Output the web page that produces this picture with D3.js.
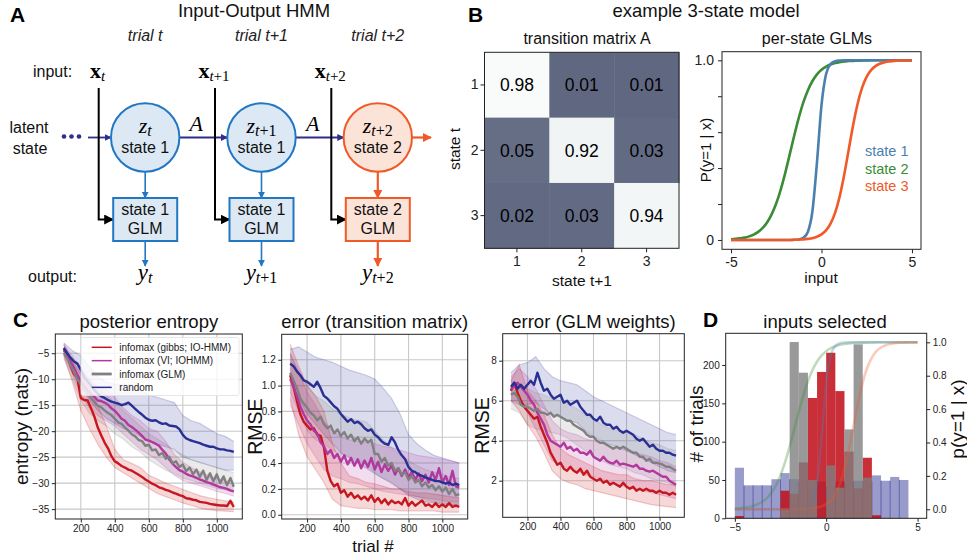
<!DOCTYPE html>
<html>
<head>
<meta charset="utf-8">
<script src="https://cdn.jsdelivr.net/npm/d3@7"></script>
<style>
body { margin:0; background:#fff; }
svg text { font-family:"Liberation Sans", Arial, Helvetica, sans-serif; }
</style>
</head>
<body>
<svg id="fig" width="967" height="560"></svg>
<script>
// ---------- data ----------
var stepLabels = ["trial t", "trial t+1", "trial t+2"];
var stepSubs = ["", "+1", "+2"];
var stepStates = [1, 1, 2];

var transA = [[0.98, 0.01, 0.01], [0.05, 0.92, 0.03], [0.02, 0.03, 0.94]];

var glmNames = ["state 1", "state 2", "state 3"];
var glmInputs = d3.range(-5, 5.001, 0.25);
var glmState1 = [0,0,0,0,0,0,0,0,0,0,0,0,0,0,0.001,0.003,0.012,0.046,0.161,0.432,0.750,0.922,0.979,0.995,0.999,1,1,1,1,1,1,1,1,1,1,1,1,1,1,1,1];
var glmState2 = [0.004,0.006,0.009,0.013,0.020,0.030,0.045,0.067,0.099,0.144,0.204,0.282,0.375,0.479,0.584,0.682,0.767,0.834,0.885,0.922,0.947,0.965,0.977,0.985,0.990,0.993,0.996,0.997,0.998,0.999,0.999,1,1,1,1,1,1,1,1,1,1];
var glmState3 = [0,0,0,0,0,0,0,0,0,0,0,0,0,0,0.001,0.002,0.003,0.006,0.010,0.018,0.031,0.053,0.091,0.151,0.240,0.360,0.500,0.640,0.760,0.849,0.909,0.947,0.969,0.982,0.990,0.994,0.997,0.998,0.999,0.999,1];

var methodNames = ["infomax (gibbs; IO-HMM)", "infomax (VI; IOHMM)", "infomax (GLM)", "random"];
var lineTrials = d3.range(100, 1101, 20);
var bandTrials = d3.range(100, 1101, 50);

// posterior entropy
var entGibbs = [-4.2,-5.2,-7.5,-9.0,-9.8,-13.6,-14.0,-14.1,-15.6,-17.2,
  -19.3,-20.8,-22.2,-23.3,-24.8,-25.8,-26.2,-26.7,-27.0,-27.4,
  -27.6,-28.0,-28.4,-28.8,-29.3,-29.7,-30.1,-30.4,-30.8,-31.0,
  -31.3,-31.5,-31.8,-32.0,-32.3,-32.5,-32.9,-33.0,-33.2,-33.3,
  -33.6,-33.7,-33.8,-34.0,-34.1,-34.2,-34.3,-34.3,-34.4,-33.4,-34.6];
var entVI = [-4.5,-5.2,-6.6,-7.8,-9.2,-10.4,-11.3,-12.2,-12.9,-13.4,
  -14.1,-14.2,-14.5,-14.9,-15.6,-16.1,-16.8,-17.6,-18.0,-18.8,
  -19.2,-19.7,-20.3,-20.9,-21.6,-21.8,-22.1,-22.4,-22.8,-23.6,
  -24.3,-25.4,-26.3,-26.9,-27.5,-27.8,-28.2,-28.5,-28.7,-29.0,
  -29.3,-29.5,-29.8,-30.0,-30.3,-30.5,-30.8,-30.9,-31.1,-31.4,-31.6];
var entGLM = [-5.0,-6.0,-7.4,-8.6,-10.0,-11.0,-12.1,-12.7,-13.6,-14.4,
  -15.1,-15.4,-16.0,-16.5,-16.9,-17.6,-18.3,-18.6,-19.3,-19.9,
  -20.6,-21.0,-21.7,-21.9,-22.8,-22.6,-23.7,-23.5,-24.6,-24.2,
  -25.3,-24.9,-26.2,-25.8,-26.9,-26.4,-27.7,-27.0,-28.3,-27.4,
  -28.8,-27.6,-29.4,-28.1,-29.7,-28.3,-30.0,-28.7,-30.4,-29.0,-30.7];
var entRand = [-4.0,-5.0,-5.9,-6.6,-7.0,-8.2,-9.6,-10.4,-11.2,-12.1,
  -12.8,-13.3,-13.6,-14.0,-14.3,-14.5,-14.7,-15.0,-14.8,-14.5,
  -15.1,-15.7,-16.3,-16.8,-17.4,-17.8,-18.0,-17.9,-18.3,-18.6,
  -18.5,-18.9,-19.0,-19.1,-19.6,-20.7,-21.4,-21.7,-21.9,-22.1,
  -22.3,-22.6,-22.8,-23.0,-23.0,-23.3,-23.5,-23.5,-23.7,-23.8,-24.0];
var entGibbsLo = [-5.5,-10.5,-16,-19.5,-22.5,-25,-27,-28,-29,-30,-31,-32,-32.6,-33.2,-33.8,-34.3,-34.8,-35.1,-35.3,-35.4,-35.5];
var entGibbsHi = [-3.2,-6.5,-9.0,-11.5,-15,-19,-23.5,-25.5,-26.2,-27,-28.5,-29.2,-30,-30.6,-31.2,-31.8,-32.4,-32.8,-33.1,-33.4,-33.6];
var entVILo = [-5.5,-9,-13,-15.5,-17,-18,-19,-20.5,-22,-23.5,-24.5,-25.5,-27,-28.5,-29.5,-30,-30.5,-31,-31.6,-32,-32.5];
var entVIHi = [-3.5,-5.5,-8,-10,-11.5,-12,-13.5,-15.5,-17,-18,-19.5,-20,-22,-24.5,-26,-27,-27.8,-28.5,-29,-29.6,-30.2];
var entGLMLo = [-6,-10,-14,-16.5,-18,-19,-20.5,-21.5,-23,-24,-25.5,-26.5,-27.5,-28.2,-29,-29.5,-30,-30.5,-31,-31.3,-31.8];
var entGLMHi = [-4,-6,-8,-10,-12,-13,-14.5,-16,-17.5,-19,-20.5,-21.5,-22.5,-23.8,-24.5,-25.5,-26,-26.5,-27,-27.5,-28];
var entRandLo = [-5,-8,-11,-14,-16,-17.5,-18.5,-19.5,-20,-21,-22,-22.5,-23,-23.5,-25,-25.5,-26,-26.5,-27,-27.5,-27.5];
var entRandHi = [-3,-4.5,-5.5,-7.5,-9.5,-10.5,-11,-11,-11,-12,-13,-13.5,-14,-14.5,-17,-18,-18.5,-19.5,-20.5,-21,-22];

// error (transition matrix)
var tmGibbs = [1.08,0.99,0.88,0.78,0.72,0.69,0.66,0.67,0.62,0.61,
  0.52,0.34,0.26,0.22,0.24,0.17,0.19,0.14,0.17,0.13,
  0.15,0.12,0.14,0.11,0.15,0.10,0.13,0.09,0.12,0.08,
  0.11,0.09,0.10,0.08,0.13,0.07,0.10,0.07,0.09,0.11,
  0.07,0.08,0.06,0.09,0.06,0.08,0.06,0.09,0.06,0.07,0.06];
var tmVI = [1.05,0.99,0.92,0.84,0.78,0.73,0.70,0.65,0.63,0.56,
  0.53,0.47,0.50,0.44,0.47,0.41,0.46,0.39,0.44,0.38,
  0.43,0.36,0.42,0.37,0.44,0.35,0.41,0.33,0.39,0.34,
  0.38,0.31,0.36,0.30,0.35,0.29,0.33,0.27,0.32,0.26,
  0.31,0.25,0.33,0.27,0.36,0.25,0.30,0.23,0.34,0.22,0.21];
var tmGLM = [1.10,1.04,0.98,0.90,0.86,0.83,0.79,0.77,0.73,0.76,
  0.70,0.67,0.69,0.63,0.66,0.61,0.64,0.59,0.62,0.57,
  0.60,0.55,0.59,0.56,0.58,0.47,0.47,0.41,0.44,0.38,
  0.40,0.34,0.36,0.31,0.33,0.27,0.30,0.25,0.27,0.22,
  0.25,0.21,0.23,0.19,0.22,0.18,0.21,0.16,0.20,0.15,0.16];
var tmRand = [1.17,1.15,1.11,1.08,1.04,1.03,1.01,0.99,1.03,0.98,
  0.92,0.90,0.87,0.84,0.82,0.78,0.75,0.72,0.74,0.71,
  0.72,0.70,0.67,0.65,0.66,0.62,0.60,0.57,0.55,0.54,
  0.60,0.56,0.50,0.46,0.43,0.37,0.34,0.33,0.31,0.30,
  0.29,0.28,0.27,0.26,0.26,0.25,0.24,0.25,0.23,0.24,0.23];
var tmGibbsLo = [0.90,0.62,0.45,0.35,0.25,0.12,0.07,0.06,0.05,0.05,0.04,0.04,0.04,0.03,0.03,0.03,0.03,0.03,0.02,0.02,0.02];
var tmGibbsHi = [1.32,1.15,1.00,0.92,0.80,0.55,0.40,0.30,0.28,0.25,0.24,0.22,0.20,0.20,0.18,0.17,0.17,0.16,0.15,0.14,0.13];
var tmVILo = [0.85,0.70,0.55,0.45,0.35,0.30,0.28,0.25,0.24,0.22,0.20,0.18,0.17,0.16,0.15,0.14,0.13,0.12,0.11,0.10,0.10];
var tmVIHi = [1.25,1.10,0.95,0.85,0.72,0.65,0.60,0.58,0.57,0.56,0.55,0.53,0.52,0.50,0.48,0.46,0.45,0.44,0.43,0.42,0.40];
var tmGLMLo = [0.95,0.80,0.65,0.58,0.55,0.50,0.47,0.45,0.42,0.40,0.32,0.28,0.24,0.20,0.16,0.14,0.12,0.10,0.09,0.08,0.07];
var tmGLMHi = [1.25,1.12,1.00,0.92,0.88,0.82,0.78,0.75,0.73,0.72,0.65,0.58,0.52,0.46,0.42,0.38,0.35,0.33,0.31,0.29,0.28];
var tmRandLo = [1.05,0.90,0.78,0.70,0.62,0.55,0.48,0.44,0.40,0.36,0.32,0.28,0.25,0.20,0.15,0.12,0.10,0.09,0.08,0.08,0.08];
var tmRandHi = [1.28,1.30,1.26,1.22,1.20,1.18,1.15,1.12,1.10,1.08,1.05,0.98,0.90,0.78,0.62,0.55,0.50,0.46,0.44,0.42,0.40];

// error (GLM weights)
var gwGibbs = [6.5,6.9,6.4,6.0,5.7,5.5,5.3,5.1,5.2,4.7,
  4.3,3.9,3.4,3.1,2.8,2.9,2.6,2.5,2.7,2.5,
  2.4,2.6,2.3,2.5,2.2,2.1,2.0,2.1,1.9,2.0,
  1.8,1.9,1.8,1.7,1.9,1.7,1.6,1.7,1.5,1.6,
  1.5,1.6,1.5,1.5,1.4,1.5,1.4,1.4,1.3,1.4,1.3];
var gwVI = [6.6,6.7,6.9,6.7,6.5,6.3,6.0,5.8,5.4,5.1,
  4.8,4.3,4.0,3.9,3.8,3.7,3.9,3.6,3.7,3.5,
  3.6,3.4,3.4,3.3,3.5,3.2,3.1,3.0,3.2,3.0,
  2.9,2.85,3.0,2.8,2.85,2.8,2.75,2.7,2.8,2.6,
  2.6,2.5,2.45,2.5,2.4,2.3,2.2,2.2,2.0,1.9,1.8];
var gwGLM = [6.3,6.4,6.2,5.8,5.7,5.7,5.6,5.5,5.6,5.4,
  5.4,5.3,5.4,5.2,5.3,5.2,5.1,5.0,5.0,4.8,
  4.7,4.6,4.5,4.3,4.2,4.2,4.0,3.9,3.9,3.8,
  3.7,3.6,3.7,3.6,3.7,3.6,3.5,3.4,3.4,3.2,
  3.2,3.0,3.1,2.9,2.9,2.85,2.8,2.7,2.7,2.6,2.5];
var gwRand = [6.7,6.9,6.6,6.8,6.6,6.8,7.0,6.8,7.4,6.9,
  6.5,6.6,6.3,6.1,6.2,6.3,5.9,6.0,5.8,5.9,
  6.0,5.7,5.5,5.3,5.3,5.1,5.0,5.2,4.9,4.8,
  4.8,4.6,4.7,4.5,4.4,4.5,4.4,4.3,4.1,4.0,
  4.1,3.9,3.7,3.8,3.6,3.5,3.5,3.4,3.4,3.3,3.25];
var gwGibbsLo = [6.0,5.5,4.8,4.2,3.4,2.5,2.1,1.9,1.8,1.6,1.5,1.4,1.3,1.2,1.1,1.0,0.9,0.8,0.75,0.7,0.65];
var gwGibbsHi = [7.0,7.8,6.5,6.0,5.3,4.3,3.6,3.3,3.1,2.9,2.7,2.5,2.4,2.3,2.3,2.1,2.0,2.0,1.9,1.8,1.8];
var gwVILo = [6.0,6.0,5.4,4.6,3.8,3.0,2.8,2.6,2.5,2.3,2.2,2.1,1.9,1.8,1.7,1.6,1.5,1.4,1.3,1.2,1.1];
var gwVIHi = [7.2,7.6,7.2,6.6,5.8,5.0,4.6,4.4,4.3,4.1,4.0,3.9,3.7,3.6,3.5,3.4,3.3,3.2,3.0,2.9,2.7];
var gwGLMLo = [5.6,5.4,4.8,4.6,4.5,4.4,4.3,4.1,3.8,3.5,3.2,3.0,2.8,2.7,2.6,2.4,2.3,2.1,2.0,1.9,1.7];
var gwGLMHi = [7.0,6.8,6.6,6.4,6.3,6.1,6.0,5.8,5.6,5.3,5.1,4.8,4.6,4.5,4.5,4.3,4.1,3.9,3.8,3.6,3.5];
var gwRandLo = [6.0,5.8,5.8,5.9,5.6,5.3,5.2,5.0,4.9,4.5,4.2,4.0,3.8,3.7,3.5,3.3,3.1,2.9,2.7,2.5,2.4];
var gwRandHi = [7.4,7.8,7.9,8.2,7.6,7.2,7.0,6.9,6.8,6.5,6.2,6.0,5.8,5.6,5.4,5.2,5.0,4.8,4.6,4.4,4.3];

// inputs selected (bins of width 0.5 from -5 to 5)
var histEdges = [-5,-4.5,-4,-3.5,-3,-2.5,-2,-1.5,-1,-0.5,0,0.5,1,1.5,2,2.5,3,3.5,4,4.5];
var histRand = [66,43,43,43,51,59,51,48,48,48,42,48,48,49,48,56,49,54,50,0];
var histGibbs = [3,0,0,0,0,36,32,73,157,191,216,166,87,39,79,4,0,0,0,0];
var histGLM = [0,0,0,0,0,11,230,190,50,0,69,40,116,227,53,0,0,0,0,0];

// ---------- styling ----------
var SERIF = '"Liberation Serif", "Times New Roman", serif';
var cBlue = "#2277c2", cBlueFill = "#dce9f5", cOrange = "#f05a28", cOrangeFill = "#fce3d8", cNavyA = "#2e2e8c";
var glmColors = ["#4a7fb0", "#3a8c36", "#f05a28"];
var methodColors = ["#c8161e", "#b2379e", "#808080", "#2a2f93"];

var svg = d3.select("#fig");
var defs = svg.append("defs");
function arrowHead(id, color, size) {
  defs.append("marker").attr("id", id).attr("viewBox", "0 0 10 10")
    .attr("refX", 9).attr("refY", 5).attr("markerWidth", size).attr("markerHeight", size)
    .attr("markerUnits", "userSpaceOnUse").attr("orient", "auto")
    .append("path").attr("d", "M0,0L10,5L0,10z").attr("fill", color);
}
arrowHead("arBlue", cBlue, 7);
arrowHead("arOrange", cOrange, 9);
arrowHead("arNavy", cNavyA, 7);
arrowHead("arBlack", "#000", 10);

function label(g, x, y, s, size, anchor) {
  return g.append("text").attr("x", x).attr("y", y).attr("font-size", size)
    .attr("text-anchor", anchor || "middle").attr("fill", "#111").text(s);
}
function panelLetter(x, y, s) {
  svg.append("text").attr("x", x).attr("y", y).attr("font-size", 21).attr("font-weight", "bold").text(s);
}
function styleAxis(g, size) {
  g.attr("font-size", null).attr("font-family", null);
  g.select(".domain").remove();
  g.selectAll(".tick line").attr("stroke", "#222");
  g.selectAll(".tick text").attr("font-size", size).attr("fill", "#222");
}

// ---------- panel A ----------
var gA = svg.append("g");
panelLetter(10, 22, "A");
label(gA, 254, 17, "Input-Output HMM", 18.5);
var aX = d3.scaleLinear().domain([0, 2]).range([145.2, 377.8]);
var r = 34.2, boxTop = 198, boxH = 43, boxW = 64;

label(gA, 33, 77, "input:", 16, "start");
label(gA, 29, 133, "latent", 16);
label(gA, 30, 154, "state", 16);
label(gA, 28, 282, "output:", 16, "start");
[64, 71.5, 79].forEach(function (d) {
  gA.append("circle").attr("cx", d).attr("cy", 136.5).attr("r", 2.3).attr("fill", cNavyA);
});

// latent chain
gA.append("line").attr("x1", 88).attr("x2", aX(0) - r).attr("y1", 137.5).attr("y2", 137.5)
  .attr("stroke", cNavyA).attr("stroke-width", 1.8).attr("marker-end", "url(#arNavy)");
[0, 1].forEach(function (i) {
  gA.append("line").attr("x1", aX(i) + r).attr("x2", aX(i + 1) - r).attr("y1", 137.5).attr("y2", 137.5)
    .attr("stroke", cNavyA).attr("stroke-width", 1.8).attr("marker-end", "url(#arNavy)");
  gA.append("text").attr("x", (aX(i) + aX(i + 1)) / 2 - 7).attr("y", 131).attr("text-anchor", "middle")
    .style("font-family", SERIF).attr("font-style", "italic").attr("font-size", 22).text("A");
});
gA.append("line").attr("x1", aX(2) + r).attr("x2", 431).attr("y1", 137.5).attr("y2", 137.5)
  .attr("stroke", cOrange).attr("stroke-width", 2.2).attr("marker-end", "url(#arOrange)");

stepLabels.forEach(function (lab, i) {
  var cx = aX(i), st = stepStates[i];
  var col = st === 2 ? cOrange : cBlue, fill = st === 2 ? cOrangeFill : cBlueFill;
  var mk = st === 2 ? "url(#arOrange)" : "url(#arBlue)";
  var sw = st === 2 ? 2.2 : 1.6;
  var lx = cx - 46.5;
  gA.append("text").attr("x", cx).attr("y", 41).attr("text-anchor", "middle")
    .attr("font-size", 16).attr("font-style", "italic").attr("fill", "#222").text(lab);

  var xt = gA.append("text").attr("x", lx - 1).attr("y", 78).attr("text-anchor", "middle").style("font-family", SERIF);
  xt.append("tspan").attr("font-weight", "bold").attr("font-size", 22).text("x");
  xt.append("tspan").attr("font-size", 15).attr("font-style", "italic").attr("dy", 3).text("t");
  if (stepSubs[i]) xt.append("tspan").attr("font-size", 15).text(stepSubs[i]);

  gA.append("path").attr("d", "M" + lx + ",88V219.5H" + (cx - boxW / 2))
    .attr("fill", "none").attr("stroke", "#000").attr("stroke-width", 2).attr("marker-end", "url(#arBlack)");

  gA.append("circle").attr("cx", cx).attr("cy", 137.5).attr("r", r)
    .attr("fill", fill).attr("stroke", col).attr("stroke-width", 2);
  var zt = gA.append("text").attr("x", cx).attr("y", 133).attr("text-anchor", "middle").style("font-family", SERIF);
  zt.append("tspan").attr("font-style", "italic").attr("font-size", 22).text("z");
  zt.append("tspan").attr("font-style", "italic").attr("font-size", 16).attr("dy", 3).text("t");
  if (stepSubs[i]) zt.append("tspan").attr("font-size", 16).text(stepSubs[i]);
  label(gA, cx, 153, "state " + st, 16);

  gA.append("line").attr("x1", cx).attr("x2", cx).attr("y1", 137.5 + r).attr("y2", boxTop)
    .attr("stroke", col).attr("stroke-width", sw).attr("marker-end", mk);
  gA.append("rect").attr("x", cx - boxW / 2).attr("y", boxTop).attr("width", boxW).attr("height", boxH)
    .attr("fill", fill).attr("stroke", col).attr("stroke-width", 2);
  label(gA, cx, 215, "state " + st, 16);
  label(gA, cx, 234, "GLM", 16);
  gA.append("line").attr("x1", cx).attr("x2", cx).attr("y1", boxTop + boxH).attr("y2", 266)
    .attr("stroke", col).attr("stroke-width", sw).attr("marker-end", mk);

  var yt = gA.append("text").attr("x", cx).attr("y", 280).attr("text-anchor", "middle").style("font-family", SERIF);
  yt.append("tspan").attr("font-style", "italic").attr("font-size", 23).text("y");
  yt.append("tspan").attr("font-style", "italic").attr("font-size", 16).attr("dy", 3).text("t");
  if (stepSubs[i]) yt.append("tspan").attr("font-size", 16).text(stepSubs[i]);
});

// ---------- panel B ----------
panelLetter(468, 22, "B");
var gB = svg.append("g");
label(gB, 706, 17, "example 3-state model", 18.5);

// transition matrix heatmap
label(gB, 587, 44, "transition matrix A", 16);
var hx = d3.scaleBand().domain([0, 1, 2]).range([484.5, 679]);
var hy = d3.scaleBand().domain([0, 1, 2]).range([52.3, 248.3]);
var heatColor = d3.scaleLinear().domain([0, 0.9, 1]).range(["#5e6680", "#edf2f2", "#fcfdfd"]);
var cells = [];
transA.forEach(function (row, i) { row.forEach(function (v, j) { cells.push({ i: i, j: j, v: v }); }); });
gB.selectAll("rect.cell").data(cells).enter().append("rect")
  .attr("x", function (d) { return hx(d.j); }).attr("y", function (d) { return hy(d.i); })
  .attr("width", hx.bandwidth() + 0.5).attr("height", hy.bandwidth() + 0.5)
  .attr("fill", function (d) { return heatColor(d.v); });
gB.selectAll("text.cell").data(cells).enter().append("text")
  .attr("x", function (d) { return hx(d.j) + hx.bandwidth() / 2; })
  .attr("y", function (d) { return hy(d.i) + hy.bandwidth() / 2; })
  .attr("dy", "0.36em").attr("text-anchor", "middle").attr("font-size", 17.5).attr("fill", "#000")
  .text(function (d) { return d3.format(".2f")(d.v); });
gB.append("rect").attr("x", 484.5).attr("y", 52.3).attr("width", 194.5).attr("height", 196)
  .attr("fill", "none").attr("stroke", "#222").attr("stroke-width", 1);
var hb = gB.append("g").attr("transform", "translate(0,248.3)")
  .call(d3.axisBottom(hx).tickSize(4).tickPadding(4).tickFormat(function (d) { return d + 1; }));
styleAxis(hb, 14);
var hl = gB.append("g").attr("transform", "translate(484.5,0)")
  .call(d3.axisLeft(hy).tickSize(4).tickPadding(2).tickFormat(function (d) { return d + 1; }));
styleAxis(hl, 14);
label(gB, 582, 286, "state t+1", 15.5);
gB.append("text").attr("transform", "translate(460,149) rotate(-90)").attr("text-anchor", "middle")
  .attr("font-size", 15.5).attr("fill", "#111").text("state t");

// per-state GLMs
label(gB, 817, 44, "per-state GLMs", 16);
var gx = d3.scaleLinear().domain([-5.5, 5.5]).range([722, 921]);
var gy = d3.scaleLinear().domain([-0.052, 1.048]).range([249.3, 51.7]);
var glmCurves = [glmState1, glmState2, glmState3];
var glmLine = d3.line().curve(d3.curveMonotoneX)
  .x(function (d) { return gx(d[0]); }).y(function (d) { return gy(d[1]); });
[1, 0, 2].forEach(function (k) {
  gB.append("path").attr("d", glmLine(glmInputs.map(function (x, i) { return [x, glmCurves[k][i]]; })))
    .attr("fill", "none").attr("stroke", glmColors[k]).attr("stroke-width", 2.6);
});
glmNames.forEach(function (n, k) {
  gB.append("text").attr("x", 865).attr("y", 156 + k * 17.5).attr("font-size", 14.5)
    .attr("fill", glmColors[k]).text(n);
});
gB.append("rect").attr("x", 722).attr("y", 51.7).attr("width", 199).attr("height", 197.6)
  .attr("fill", "none").attr("stroke", "#222").attr("stroke-width", 1);
var gbx = gB.append("g").attr("transform", "translate(0,249.3)")
  .call(d3.axisBottom(gx).tickValues([-5, 0, 5]).tickSize(4).tickPadding(4).tickFormat(function (d) { return String(d); }));
styleAxis(gbx, 14);
var gby = gB.append("g").attr("transform", "translate(722,0)")
  .call(d3.axisLeft(gy).tickValues([0, 0.2, 0.4, 0.6, 0.8, 1]).tickSize(4).tickPadding(4)
    .tickFormat(function (d) { return d === 0 ? "0" : (d === 1 ? "1.0" : ""); }));
styleAxis(gby, 14);
label(gB, 821, 283, "input", 15.5);
gB.append("text").attr("transform", "translate(711,150) rotate(-90)").attr("text-anchor", "middle")
  .attr("font-size", 15).attr("fill", "#111").text("P(y=1 | x)");

// ---------- panel C ----------
panelLetter(13, 327, "C");

function timePanel(cfg) {
  var g = svg.append("g");
  var x = d3.scaleLinear().domain([50, 1150]).range([cfg.left, cfg.right]);
  var y = d3.scaleLinear().domain(cfg.yDomain).range([cfg.bottom, cfg.top]);
  var xTicks = [200, 400, 600, 800, 1000];
  g.selectAll("line.gx").data(xTicks).enter().append("line")
    .attr("x1", x).attr("x2", x).attr("y1", cfg.top).attr("y2", cfg.bottom)
    .attr("stroke", "#c8c8c8").attr("stroke-width", 1.1);
  g.selectAll("line.gy").data(cfg.yTicks).enter().append("line")
    .attr("y1", y).attr("y2", y).attr("x1", cfg.left).attr("x2", cfg.right)
    .attr("stroke", "#c8c8c8").attr("stroke-width", 1.1);

  var area = d3.area().x(function (d) { return x(d[0]); })
    .y0(function (d) { return y(d[1]); }).y1(function (d) { return y(d[2]); });
  var line = d3.line().x(function (d) { return x(d[0]); }).y(function (d) { return y(d[1]); });
  [3, 2, 1, 0].forEach(function (k) {
    var lo = cfg.lo[k], hi = cfg.hi[k];
    g.append("path").attr("d", area(bandTrials.map(function (t, i) { return [t, lo[i], hi[i]]; })))
      .attr("fill", methodColors[k]).attr("fill-opacity", 0.17).attr("stroke", "none");
    [lo, hi].forEach(function (edge) {
      g.append("path").attr("d", line(bandTrials.map(function (t, i) { return [t, edge[i]]; })))
        .attr("fill", "none").attr("stroke", methodColors[k]).attr("stroke-opacity", 0.2).attr("stroke-width", 1.2);
    });
  });
  [0, 1, 2, 3].forEach(function (k) {
    var s = cfg.series[k];
    g.append("path").attr("d", line(lineTrials.map(function (t, i) { return [t, s[i]]; })))
      .attr("fill", "none").attr("stroke", methodColors[k]).attr("stroke-width", 2.4)
      .attr("stroke-linejoin", "round");
  });
  g.append("rect").attr("x", cfg.left).attr("y", cfg.top).attr("width", cfg.right - cfg.left)
    .attr("height", cfg.bottom - cfg.top).attr("fill", "none").attr("stroke", "#222").attr("stroke-width", 1);
  var ax = g.append("g").attr("transform", "translate(0," + cfg.bottom + ")")
    .call(d3.axisBottom(x).tickValues(xTicks).tickSize(3.5).tickPadding(2.5).tickFormat(d3.format("d")));
  styleAxis(ax, 10);
  var ay = g.append("g").attr("transform", "translate(" + cfg.left + ",0)")
    .call(d3.axisLeft(y).tickValues(cfg.yTicks).tickSize(3.5).tickPadding(2.5).tickFormat(cfg.yFormat));
  styleAxis(ay, 10);
  label(g, (cfg.left + cfg.right) / 2, 328, cfg.title, 18.5);
  g.append("text").attr("transform", "translate(" + cfg.yLabelX + "," + ((cfg.top + cfg.bottom) / 2) + ") rotate(-90)")
    .attr("text-anchor", "middle").attr("font-size", cfg.yLabelSize).attr("fill", "#111").text(cfg.yLabel);
  return { g: g, x: x, y: y };
}

var pEnt = timePanel({
  left: 55.3, right: 242.3, top: 334, bottom: 519, yDomain: [-36.9, -1.3],
  yTicks: [-35, -30, -25, -20, -15, -10, -5], yFormat: d3.format("d"),
  series: [entGibbs, entVI, entGLM, entRand],
  lo: [entGibbsLo, entVILo, entGLMLo, entRandLo], hi: [entGibbsHi, entVIHi, entGLMHi, entRandHi],
  title: "posterior entropy", yLabel: "entropy (nats)", yLabelX: 28, yLabelSize: 19
});
// legend
var lg = pEnt.g.append("g");
lg.append("rect").attr("x", 81).attr("y", 337.5).attr("width", 158).attr("height", 58).attr("rx", 2)
  .attr("fill", "#fff").attr("fill-opacity", 0.8).attr("stroke", "#e0e0e0").attr("stroke-width", 0.8);
methodNames.forEach(function (n, k) {
  var yy = 347.3 + k * 13.35;
  lg.append("line").attr("x1", 91.7).attr("x2", 111.7).attr("y1", yy).attr("y2", yy)
    .attr("stroke", methodColors[k]).attr("stroke-width", k === 2 ? 2.8 : 1.5);
  lg.append("text").attr("x", 119.3).attr("y", yy).attr("dy", "0.35em").attr("font-size", 10)
    .attr("fill", "#222").text(n);
});

timePanel({
  left: 281.7, right: 467.7, top: 334.3, bottom: 519, yDomain: [-0.033, 1.397],
  yTicks: [0, 0.2, 0.4, 0.6, 0.8, 1.0, 1.2], yFormat: d3.format(".1f"),
  series: [tmGibbs, tmVI, tmGLM, tmRand],
  lo: [tmGibbsLo, tmVILo, tmGLMLo, tmRandLo], hi: [tmGibbsHi, tmVIHi, tmGLMHi, tmRandHi],
  title: "error (transition matrix)", yLabel: "RMSE", yLabelX: 261.5, yLabelSize: 19.5
});
label(svg, 373, 552, "trial #", 17);

timePanel({
  left: 502.7, right: 684.3, top: 333.7, bottom: 517.3, yDomain: [0.17, 9.35],
  yTicks: [2, 4, 6, 8], yFormat: d3.format("d"),
  series: [gwGibbs, gwVI, gwGLM, gwRand],
  lo: [gwGibbsLo, gwVILo, gwGLMLo, gwRandLo], hi: [gwGibbsHi, gwVIHi, gwGLMHi, gwRandHi],
  title: "error (GLM weights)", yLabel: "RMSE", yLabelX: 488.5, yLabelSize: 19.5
});

// ---------- panel D ----------
panelLetter(703, 327, "D");
var gD = svg.append("g");
var dL = 725.7, dR = 926.7, dT = 333.3, dB = 518.3;
var dx = d3.scaleLinear().domain([-5.5, 5.5]).range([dL, dR]);
var dy = d3.scaleLinear().domain([0, 241.4]).range([dB, dT]);
var dp = d3.scaleLinear().domain([-0.054, 1.054]).range([dB, dT]);
function bars(counts, fill, opacity) {
  gD.append("g").selectAll("rect").data(histEdges).enter().append("rect")
    .attr("x", function (d) { return dx(d); })
    .attr("width", function (d) { return dx(d + 0.5) - dx(d); })
    .attr("y", function (d, i) { return dy(counts[i]); })
    .attr("height", function (d, i) { return dy(0) - dy(counts[i]); })
    .attr("fill", fill).attr("fill-opacity", opacity);
}
bars(histRand, "#2a2f93", 0.48);
histEdges.forEach(function (e, i) {
  if (i === 0) return;
  var h = Math.min(histRand[i - 1], histRand[i]);
  if (h > 0) gD.append("line").attr("x1", dx(e)).attr("x2", dx(e)).attr("y1", dy(0)).attr("y2", dy(h))
    .attr("stroke", "#2a2f93").attr("stroke-opacity", 0.6).attr("stroke-width", 0.9);
});
bars(histGibbs, "#c0121c", 0.88);
bars(histGLM, "#808080", 0.8);
var dLine = d3.line().curve(d3.curveMonotoneX)
  .x(function (d) { return dx(d[0]); }).y(function (d) { return dp(d[1]); });
[1, 0, 2].forEach(function (k) {
  gD.append("path").attr("d", dLine(glmInputs.map(function (x, i) { return [x, glmCurves[k][i]]; })))
    .attr("fill", "none").attr("stroke", glmColors[k]).attr("stroke-opacity", 0.32).attr("stroke-width", 2.6);
});
gD.append("rect").attr("x", dL).attr("y", dT).attr("width", dR - dL).attr("height", dB - dT)
  .attr("fill", "none").attr("stroke", "#222").attr("stroke-width", 1);
var dax = gD.append("g").attr("transform", "translate(0," + dB + ")")
  .call(d3.axisBottom(dx).tickValues([-5, 0, 5]).tickSize(3.5).tickPadding(2.5));
styleAxis(dax, 10);
var day = gD.append("g").attr("transform", "translate(" + dL + ",0)")
  .call(d3.axisLeft(dy).tickValues([0, 50, 100, 150, 200]).tickSize(3.5).tickPadding(2.5));
styleAxis(day, 10);
var dar = gD.append("g").attr("transform", "translate(" + dR + ",0)")
  .call(d3.axisRight(dp).tickValues([0, 0.2, 0.4, 0.6, 0.8, 1.0]).tickSize(3.5).tickPadding(2.5).tickFormat(d3.format(".1f")));
styleAxis(dar, 10);
label(gD, 825, 328, "inputs selected", 18.5);
gD.append("text").attr("transform", "translate(703,424) rotate(-90)").attr("text-anchor", "middle")
  .attr("font-size", 19).attr("fill", "#111").text("# of trials");
gD.append("text").attr("transform", "translate(964,419) rotate(-90)").attr("text-anchor", "middle")
  .attr("font-size", 19).attr("fill", "#111").text("p(y=1 | x)");
</script>
</body>
</html>
